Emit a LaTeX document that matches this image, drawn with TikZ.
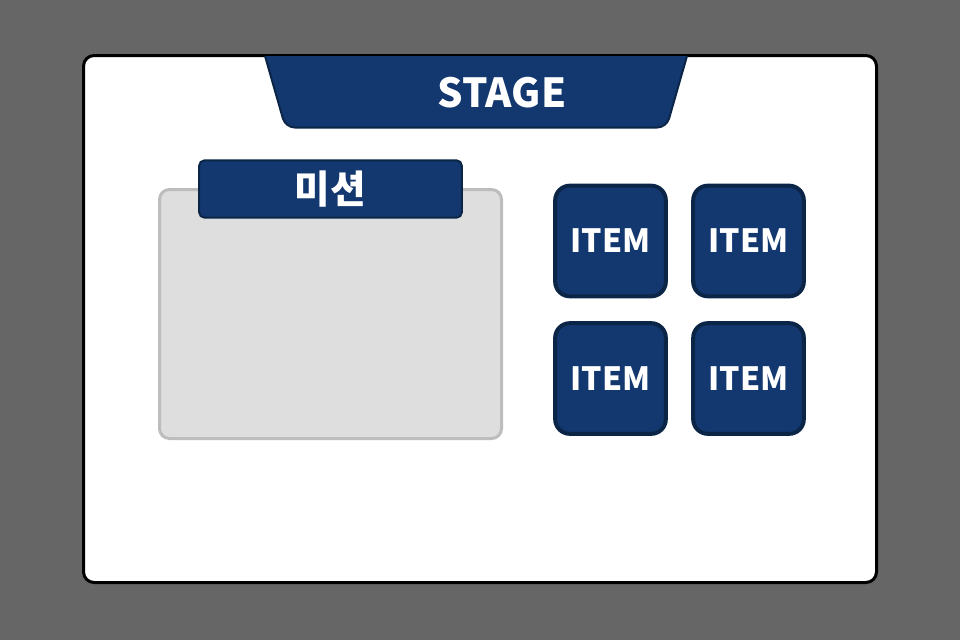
\documentclass[tikz,border=0pt]{standalone}
\usepackage{fontspec}
\setmainfont{Noto Sans CJK KR}
\usetikzlibrary{positioning}
\definecolor{bggray}{HTML}{666666}
\definecolor{navy}{HTML}{13386F}
\definecolor{navyline}{HTML}{0B2547}
\definecolor{boxgray}{HTML}{DEDEDE}
\definecolor{boxline}{HTML}{BDBDBD}
\tikzset{
		itembox/.style={draw=navyline, fill=navy, line width=3pt, rounded corners=11pt,
			minimum width=83pt, minimum height=83pt, inner sep=0pt,
			text=white, font=\bfseries\fontsize{24}{24}\selectfont},
		tabbox/.style={draw=navyline, fill=navy, line width=1.5pt, rounded corners=4pt,
			minimum width=197pt, minimum height=43pt, inner sep=0pt,
			text=white, font=\bfseries\fontsize{29}{29}\selectfont}
	}

\begin{document}
\begin{tikzpicture}[x=0.75pt,y=-0.75pt]
		% Background
		\fill[bggray] (0,0) rectangle (960,640);
		\useasboundingbox (0,0) rectangle (960,640);
		% Panel
		\draw[black, fill=white, line width=2.25pt, rounded corners=8pt] (83.5,55.5) rectangle (876.5,582.5);
		% Stage
		\draw[navyline, fill=navy, line width=1.5pt, rounded corners=7pt] (265,56) -- (285.5,127.5) -- (666.5,127.5) -- (687,56);
		\node[text=white, font=\bfseries\fontsize{30}{30}\selectfont] (stage) at (502,93) {STAGE};
		% Mission
		\draw[boxline, fill=boxgray, line width=2.25pt, rounded corners=7.5pt] (159.5,189.5) rectangle (501.5,438.5);
		\node[tabbox] (mission) at (330.5,189) {미션};
		% Items
		\foreach \r/\y in {1/241, 2/378.5} {
			\foreach \c/\x in {1/610.5, 2/748.5} {
				\node[itembox] (item\r\c) at (\x,\y) {ITEM};
			}
		}
	\end{tikzpicture}
\end{document}
